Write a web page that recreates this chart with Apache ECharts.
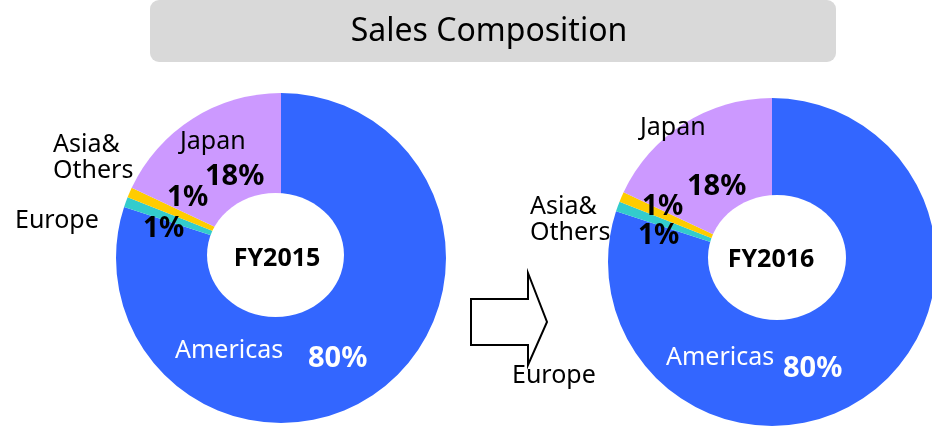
<!DOCTYPE html>
<html>
<head>
<meta charset="utf-8">
<script src="https://cdn.jsdelivr.net/npm/echarts@6/dist/echarts.min.js"></script>
<style>
  html, body { margin: 0; padding: 0; background: #fff; }
  #main { width: 932px; height: 426px; }
</style>
</head>
<body>
<div id="main"></div>
<script>
// data
const regions = ['Americas', 'Europe', 'Asia&\nOthers', 'Japan'];
const share2015 = [80, 1, 1, 18];
const share2016 = [80, 1, 1, 18];
const years = ['FY2015', 'FY2016'];
const chartTitle = 'Sales Composition';
const colors = ['#3366FF', '#33CCCC', '#FFCC00', '#CC99FF'];

const FONT = '"Noto Sans", "Open Sans", sans-serif';

// layout of the two donuts + where their labels sit
const donuts = [
  {
    values: share2015, year: years[0],
    center: [281, 258], r: 165,
    hole: { cx: 275.5, cy: 255, rx: 68.5, ry: 62 },
    yearPos: [277, 259],
    names: [[175, 351, 'white'], [15, 221, '#000'], [53, 158, '#000'], [180, 142, '#000']],
    pcts: [[308, 359, 'white'], [143, 229, '#000'], [167, 198, '#000'], [205, 177, '#000']]
  },
  {
    values: share2016, year: years[1],
    center: [772, 262], r: 164,
    hole: { cx: 777, cy: 257.5, rx: 69, ry: 62.5 },
    yearPos: [771, 260],
    names: [[666, 358, 'white'], [512, 376, '#000'], [530, 220, '#000'], [640, 128, '#000']],
    pcts: [[783, 369, 'white'], [638, 236, '#000'], [642, 207, '#000'], [687, 187, '#000']]
  }
];

const chart = echarts.init(document.getElementById('main'), null, { renderer: 'canvas' });

const series = donuts.map(d => ({
  type: 'pie',
  center: d.center,
  radius: [0, d.r],
  startAngle: 90,
  clockwise: true,
  silent: true,
  animation: false,
  label: { show: false },
  labelLine: { show: false },
  itemStyle: { borderWidth: 0 },
  data: regions.map((name, i) => ({
    name: name,
    value: d.values[i],
    itemStyle: { color: colors[i] }
  }))
}));

const graphics = [
  // title box
  {
    type: 'rect', z: 100,
    shape: { x: 150, y: 0, width: 686, height: 62, r: 9 },
    style: { fill: '#D9D9D9' }
  },
  {
    type: 'text', z: 101, x: 489, y: 32,
    style: { text: chartTitle, font: '32px ' + FONT, fill: '#000', align: 'center', verticalAlign: 'middle' }
  },
  // arrow between the two years
  {
    type: 'polygon', z: 100,
    shape: { points: [[471, 299], [528, 299], [528, 273], [547, 322], [528, 365], [528, 345], [471, 345]] },
    style: { fill: '#fff', stroke: '#000', lineWidth: 2 }
  }
];

donuts.forEach(d => {
  graphics.push({
    type: 'ellipse', z: 100,
    shape: d.hole,
    style: { fill: '#fff' }
  });
  graphics.push({
    type: 'text', z: 102, x: d.yearPos[0], y: d.yearPos[1],
    style: { text: d.year, font: 'bold 25px ' + FONT, fill: '#000', align: 'center', verticalAlign: 'middle' }
  });
  regions.forEach((name, i) => {
    const n = d.names[i];
    graphics.push({
      type: 'text', z: 103, x: n[0], y: n[1],
      style: { text: name, font: '25px ' + FONT, fill: n[2], align: 'left', verticalAlign: 'middle', lineHeight: 26 }
    });
    const p = d.pcts[i];
    graphics.push({
      type: 'text', z: 103, x: p[0], y: p[1],
      style: { text: d.values[i] + '%', font: 'bold ' + (i === 1 || i === 2 ? 28 : 29) + 'px ' + FONT, fill: p[2], align: 'left', verticalAlign: 'middle' }
    });
  });
});

chart.setOption({
  animation: false,
  backgroundColor: '#fff',
  series: series,
  graphic: { elements: graphics }
});
</script>
</body>
</html>
